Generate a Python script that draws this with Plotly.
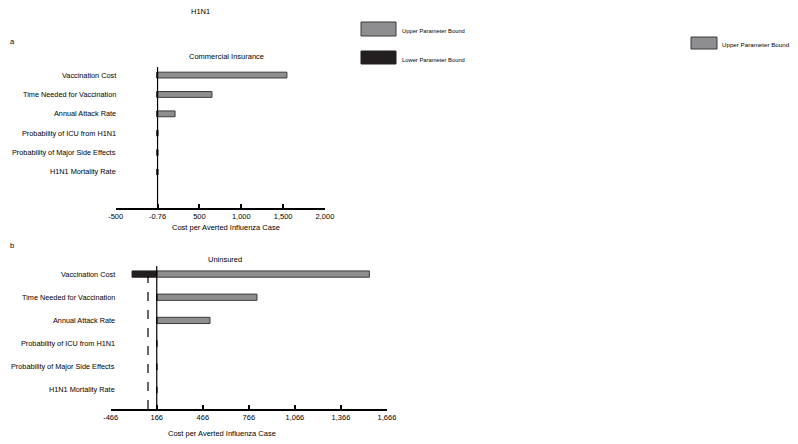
import plotly.graph_objects as go

# ---------------- data ----------------
parameters = [
    "Vaccination Cost",
    "Time Needed for Vaccination",
    "Annual Attack Rate",
    "Probability of ICU from H1N1",
    "Probability of Major Side Effects",
    "H1N1 Mortality Rate",
]

# Panel a: Commercial Insurance (baseline shown as -0.76)
comm_baseline = 0
comm_upper = [1545, 650, 209, 6, 6, 6]
comm_lower = [-10, -10, -10, -10, -10, -10]
comm_tickvals = [-500, 0, 500, 1000, 1500, 2000]
comm_ticktext = ["-500", "-0.76", "500", "1,000", "1,500", "2,000"]

# Panel b: Uninsured
unins_baseline = 166
unins_upper = [1551, 819, 513, 166, 166, 166]
unins_lower = [5, 166, 166, 166, 166, 166]
unins_reference = 109
unins_tickvals = [-134, 166, 466, 766, 1066, 1366, 1666]
unins_ticktext = ["-466", "166", "466", "766", "1,066", "1,366", "1,666"]

GRAY = "#8e8e90"
BLACK = "#231f20"
EDGE = "#3a3a3a"
FONT = "Liberation Sans, Arial, sans-serif"
OFF = 8              # page body margin
W, H = 790, 436      # figure size so that figure + margin fills the window


def px(x):
    return (x - OFF) / W


def py(y):
    return 1 - (y - OFF) / H


fig = go.Figure()
ypos = list(range(len(parameters)))

# panel a bars
fig.add_trace(go.Bar(
    y=ypos, x=[u - comm_baseline for u in comm_upper], base=comm_baseline,
    orientation="h", marker=dict(color=GRAY, line=dict(color=EDGE, width=1)),
    width=0.3, xaxis="x", yaxis="y", showlegend=False))
fig.add_trace(go.Bar(
    y=ypos, x=[l - comm_baseline for l in comm_lower], base=comm_baseline,
    orientation="h", marker=dict(color=BLACK, line=dict(color=BLACK, width=1)),
    width=0.3, xaxis="x", yaxis="y", showlegend=False))

# panel b bars
fig.add_trace(go.Bar(
    y=ypos, x=[u - unins_baseline for u in unins_upper], base=unins_baseline,
    orientation="h", marker=dict(color=GRAY, line=dict(color=EDGE, width=1)),
    width=0.27, xaxis="x2", yaxis="y2", showlegend=False))
fig.add_trace(go.Bar(
    y=ypos, x=[l - unins_baseline for l in unins_lower], base=unins_baseline,
    orientation="h", marker=dict(color=BLACK, line=dict(color=BLACK, width=1)),
    width=0.27, xaxis="x2", yaxis="y2", showlegend=False))

axis_common = dict(showgrid=False, zeroline=False, showline=True, linecolor="black",
                   linewidth=1.5, ticks="inside", ticklen=4, tickcolor="black",
                   tickwidth=1.5, tickfont=dict(family=FONT, size=7.5, color="black"))

fig.update_layout(
    width=W, height=H, margin=dict(l=0, r=0, t=0, b=0),
    paper_bgcolor="white", plot_bgcolor="white", barmode="overlay",
    showlegend=False,
    xaxis=dict(domain=[px(115.7), px(325)], range=[-500, 2000], anchor="y",
               tickmode="array", tickvals=comm_tickvals, ticktext=comm_ticktext,
               automargin=False, **axis_common),
    yaxis=dict(domain=[py(208), py(65)], range=[6.86, -0.52], anchor="x",
               showticklabels=False, showgrid=False, zeroline=False, showline=False),
    xaxis2=dict(domain=[px(110.7), px(387)], range=[-134, 1666], anchor="y2",
                tickmode="array", tickvals=unins_tickvals, ticktext=unins_ticktext,
                automargin=False, **axis_common),
    yaxis2=dict(domain=[py(409), py(262)], range=[5.82, -0.52], anchor="x2",
                showticklabels=False, showgrid=False, zeroline=False, showline=False),
)

# baselines
fig.add_shape(type="line", xref="x", yref="y domain", x0=comm_baseline, x1=comm_baseline,
              y0=0, y1=(208 - 67) / 143, line=dict(color="black", width=1.2))
fig.add_shape(type="line", xref="x2", yref="y2 domain", x0=unins_baseline, x1=unins_baseline,
              y0=0, y1=(409 - 266) / 147, line=dict(color="black", width=1.2))
fig.add_shape(type="line", xref="x2", yref="y2 domain", x0=unins_reference, x1=unins_reference,
              y0=0, y1=(409 - 276) / 147, line=dict(color="black", width=1.2, dash="dash"))


def text(x, y, s, size=7.5, xanchor="center", xref="paper", yref="paper"):
    fig.add_annotation(x=x, y=y, xref=xref, yref=yref, text=s, showarrow=False,
                       xanchor=xanchor, yanchor="middle",
                       font=dict(family=FONT, size=size, color="black"))


# category labels
for i, name in enumerate(parameters):
    text(px(118), i, name, size=7.3, xanchor="right", yref="y")
    text(px(117), i, name, size=7.3, xanchor="right", yref="y2")

text(px(200), py(12), "H1N1")
text(px(8), py(41), "a", xanchor="left")
text(px(8), py(246), "b", xanchor="left")
text(px(226), py(56), "Commercial Insurance")
text(px(225), py(259), "Uninsured")
text(px(226), py(227), "Cost per Averted Influenza Case")
text(px(222), py(433), "Cost per Averted Influenza Case")

# legend
fig.add_shape(type="rect", xref="paper", yref="paper", x0=px(361), x1=px(396),
              y0=py(36), y1=py(22), fillcolor=GRAY, line=dict(color=EDGE, width=1))
fig.add_shape(type="rect", xref="paper", yref="paper", x0=px(361), x1=px(396),
              y0=py(64), y1=py(51), fillcolor=BLACK, line=dict(color=BLACK, width=1))
fig.add_shape(type="rect", xref="paper", yref="paper", x0=px(691), x1=px(717),
              y0=py(49), y1=py(37), fillcolor=GRAY, line=dict(color=EDGE, width=1))
text(px(400), py(31), "Upper Parameter Bound", size=5.8, xanchor="left")
text(px(400), py(60), "Lower Parameter Bound", size=5.8, xanchor="left")
text(px(720), py(45), "Upper Parameter Bound", size=6.2, xanchor="left")

fig.write_html("out.html")
